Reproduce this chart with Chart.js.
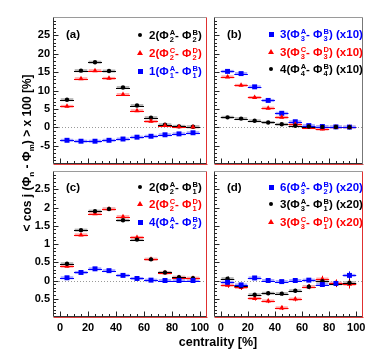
<!DOCTYPE html>
<html>
<head>
<meta charset="utf-8">
<script src="https://cdn.jsdelivr.net/npm/chart.js@4.4.1/dist/chart.umd.min.js"></script>
<style>
body { margin: 0; background: #fff; }
#wrap { position: relative; width: 374px; height: 355px; overflow: hidden;
  font-family: "Liberation Sans", Arial, sans-serif; font-weight: bold; }
#wrap canvas { position: absolute; left: 0; top: 0; }
.lab { position: absolute; white-space: nowrap; font-size: 11.5px; line-height: 14px; height: 14px; }
.ss { display: inline-block; vertical-align: -3px; font-size: 7.5px; line-height: 7px; margin-left: 1px; }
.ss span { display: block; }
.mk { position: absolute; }
#ytitle { position: absolute; left: 28px; top: 153px; white-space: nowrap; font-size: 12px;
  transform: translate(-50%, -50%) rotate(-90deg); }
#ytitle sub { font-size: 8px; }
#xtitle { position: absolute; left: 218px; top: 342px; white-space: nowrap; font-size: 12.5px;
  transform: translate(-50%, -50%); }
</style>
</head>
<body>
<div id="wrap">
  <canvas id="pa" width="374" height="355"></canvas>
  <canvas id="pb" width="374" height="355"></canvas>
  <canvas id="pc" width="374" height="355"></canvas>
  <canvas id="pd" width="374" height="355"></canvas>
  <div id="ytitle">&lt; cos j (Φ<sub>n</sub> - Φ<sub>m</sub>) &gt; x 100 [%]</div>
  <div id="xtitle">centrality [%]</div>
</div>
<script>
// centrality bins (centres), tick values
var centrality = [5, 15, 25, 35, 45, 55, 65, 75, 85, 95];
var xTicks = [0, 20, 40, 60, 80, 100];
var xTickLabels = ['0', '20', '40', '60', '80', '100'];
var yTicksTop = [-5, 0, 5, 10, 15, 20, 25];
var yTickLabelsTop = ['-5', '0', '5', '10', '15', '20', '25'];
var yTicksBot = [-0.5, 0, 0.5, 1, 1.5, 2, 2.5];
var yTickLabelsBot = ['0.5', '0', '0.5', '1', '1.5', '2', '2.5'];

// (a)
var a_2AB = [7.5, 15.4, 17.7, 15.3, 10.8, 5.9, 2.6, 0.7, 0.25, 0.15];
var a_2AB_stat = [0.3, 0.3, 0.3, 0.3, 0.3, 0.3, 0.3, 0.3, 0.3, 0.3];
var a_2AB_sys = [0.4, 0.4, 0.4, 0.4, 0.4, 0.4, 0.4, 0.4, 0.4, 0.4];
var a_2CD = [5.7, 13.2, 15.4, 13.3, 8.9, 4.5, 1.6, 0.45, 0.15, 0.1];
var a_2CD_stat = [0.3, 0.3, 0.3, 0.3, 0.3, 0.3, 0.3, 0.3, 0.3, 0.3];
var a_2CD_sys = [0.4, 0.4, 0.4, 0.4, 0.4, 0.4, 0.4, 0.4, 0.4, 0.4];
var a_1AB = [-3.55, -3.8, -3.8, -3.55, -3.2, -2.7, -2.45, -2.05, -1.8, -1.5];
var a_1AB_stat = [0.15, 0.15, 0.15, 0.15, 0.15, 0.15, 0.15, 0.15, 0.15, 0.15];
var a_1AB_sys = [0.4, 0.4, 0.4, 0.4, 0.4, 0.4, 0.4, 0.4, 0.4, 0.4];

// (b), values x10
var b_3AB = [15.2, 14.6, 11.0, 7.3, 3.8, 1.5, 0.45, 0.2, 0.1, 0.05];
var b_3AB_stat = [0.3, 0.3, 0.3, 0.3, 0.3, 0.3, 0.3, 0.3, 0.3, 0.3];
var b_3AB_sys = [0.4, 0.4, 0.4, 0.4, 0.4, 0.4, 0.4, 0.4, 0.4, 0.4];
var b_3CD = [13.7, 11.4, 8.1, 5.2, 2.7, 0.8, -0.1, -0.5, 0.0, 0.0];
var b_3CD_stat = [0.3, 0.3, 0.3, 0.3, 0.3, 0.3, 0.3, 0.3, 0.3, 0.3];
var b_3CD_sys = [0.4, 0.4, 0.4, 0.4, 0.4, 0.4, 0.4, 0.4, 0.4, 0.4];
var b_4AB = [2.7, 2.35, 1.75, 1.3, 0.8, 0.4, 0.2, 0.1, 0.05, 0.0];
var b_4AB_stat = [0.2, 0.2, 0.2, 0.2, 0.2, 0.2, 0.2, 0.2, 0.2, 0.2];
var b_4AB_sys = [0.3, 0.3, 0.3, 0.3, 0.3, 0.3, 0.3, 0.3, 0.3, 0.3];

// (c)
var c_2AB1 = [0.46, 1.38, 1.90, 1.96, 1.65, 1.12, 0.58, 0.22, 0.09, 0.06];
var c_2AB1_stat = [0.03, 0.03, 0.03, 0.03, 0.03, 0.03, 0.03, 0.03, 0.03, 0.03];
var c_2AB1_sys = [0.04, 0.04, 0.04, 0.04, 0.04, 0.04, 0.04, 0.04, 0.04, 0.04];
var c_2CD1 = [0.39, 1.25, 1.83, 1.96, 1.75, 1.18, 0.58, 0.21, 0.08, 0.06];
var c_2CD1_stat = [0.03, 0.03, 0.03, 0.03, 0.03, 0.03, 0.03, 0.03, 0.03, 0.03];
var c_2CD1_sys = [0.04, 0.04, 0.04, 0.04, 0.04, 0.04, 0.04, 0.04, 0.04, 0.04];
var c_4AB2 = [0.075, 0.22, 0.32, 0.27, 0.14, 0.055, 0.01, 0.0, 0.0, 0.0];
var c_4AB2_stat = [0.015, 0.015, 0.015, 0.015, 0.015, 0.015, 0.015, 0.015, 0.015, 0.015];
var c_4AB2_sys = [0.04, 0.04, 0.04, 0.04, 0.04, 0.04, 0.04, 0.04, 0.04, 0.04];

// (d), values x20
var d_6AB = [-0.05, -0.12, 0.07, 0.0, -0.03, 0.0, 0.01, -0.11, -0.08, 0.14];
var d_6AB_stat = [0.05, 0.05, 0.04, 0.04, 0.04, 0.04, 0.05, 0.06, 0.07, 0.11];
var d_6AB_sys = [0.04, 0.04, 0.04, 0.04, 0.04, 0.04, 0.04, 0.04, 0.04, 0.04];
var d_3AB1 = [0.05, -0.16, -0.39, -0.35, -0.36, -0.28, -0.17, -0.02, -0.09, -0.06];
var d_3AB1_stat = [0.06, 0.06, 0.05, 0.05, 0.05, 0.05, 0.06, 0.08, 0.09, 0.1];
var d_3AB1_sys = [0.04, 0.04, 0.04, 0.04, 0.04, 0.04, 0.04, 0.04, 0.04, 0.04];
var d_3CD1 = [-0.13, -0.19, -0.49, -0.56, -0.75, -0.51, -0.17, 0.04, -0.07, -0.1];
var d_3CD1_stat = [0.07, 0.07, 0.06, 0.06, 0.06, 0.06, 0.07, 0.09, 0.1, 0.12];
var d_3CD1_sys = [0.04, 0.04, 0.04, 0.04, 0.04, 0.04, 0.04, 0.04, 0.04, 0.04];

var BLACK = '#000000', RED = '#ff0000', BLUE = '#0000ff';
var LIGHT = { '#000000': '#b4b4b4', '#ff0000': '#ffaaaa', '#0000ff': '#a8a8ff' };
var MARK = { circle: 2.2, triangle: 3, rect: 3.5 };
var tickFont = { family: '"Liberation Sans", Arial, sans-serif', size: 11, weight: 'bold' };

function series(vals, stat, sys, color, style) {
  return {
    data: centrality.map(function (x, i) { return { x: x, y: vals[i] }; }),
    stat: stat, sys: sys,
    pointStyle: style, pointRadius: MARK[style],
    backgroundColor: color, borderColor: color, borderWidth: 0,
    showLine: false
  };
}

// systematic boxes, bin-width bars, stat bars, dotted zero line, frame with inner ticks
var errPlugin = {
  id: 'errs',
  beforeDatasetsDraw: function (chart) {
    var ctx = chart.ctx, xs = chart.scales.x, ys = chart.scales.y, a = chart.chartArea;
    ctx.save();
    ctx.strokeStyle = '#999'; ctx.lineWidth = 1; ctx.setLineDash([1, 2]);
    var y0 = Math.round(ys.getPixelForValue(0)) + 0.5;
    ctx.beginPath(); ctx.moveTo(a.left, y0); ctx.lineTo(a.right, y0); ctx.stroke();
    ctx.setLineDash([]);
    chart.data.datasets.forEach(function (ds) {
      ctx.fillStyle = LIGHT[ds.borderColor];
      ds.data.forEach(function (p, i) {
        var l = xs.getPixelForValue(p.x - 4.5), r = xs.getPixelForValue(p.x + 4.5);
        var t = ys.getPixelForValue(p.y + ds.sys[i]), b = ys.getPixelForValue(p.y - ds.sys[i]);
        var h = Math.max(b - t, 3);
        ctx.fillRect(l, (t + b) / 2 - h / 2, r - l, h);
      });
    });
    chart.data.datasets.forEach(function (ds) {
      ctx.strokeStyle = ds.borderColor; ctx.lineWidth = 1;
      ds.data.forEach(function (p, i) {
        var px = Math.round(xs.getPixelForValue(p.x)) + 0.5;
        var py = Math.round(ys.getPixelForValue(p.y)) + 0.5;
        ctx.beginPath();
        ctx.moveTo(xs.getPixelForValue(p.x - 5), py);
        ctx.lineTo(xs.getPixelForValue(p.x + 5), py);
        ctx.moveTo(px, ys.getPixelForValue(p.y + ds.stat[i]));
        ctx.lineTo(px, ys.getPixelForValue(p.y - ds.stat[i]));
        ctx.stroke();
      });
    });
    ctx.restore();
  },
  afterDraw: function (chart) {
    var ctx = chart.ctx, xs = chart.scales.x, ys = chart.scales.y, a = chart.chartArea;
    var o = chart.options.plugins.errs;
    var L = Math.round(a.left) + 0.5, R = Math.round(a.right) - 0.5;
    var T = Math.round(a.top) + 0.5, B = Math.round(a.bottom) - 0.5;
    ctx.save();
    ctx.lineWidth = 1;
    ctx.strokeStyle = '#9a9a9a';
    ctx.beginPath(); ctx.moveTo(L, T); ctx.lineTo(R, T); ctx.stroke();
    ctx.strokeStyle = '#333';
    ctx.beginPath(); ctx.moveTo(L, T); ctx.lineTo(L, B); ctx.lineTo(R, B); ctx.stroke();
    ctx.strokeStyle = '#e04040';
    ctx.beginPath(); ctx.moveTo(L, B + 1); ctx.lineTo(R + 1, B + 1); ctx.stroke();
    ctx.strokeStyle = o.rightColor;
    ctx.beginPath(); ctx.moveTo(R, T); ctx.lineTo(R, B + 1); ctx.stroke();
    // ticks drawn inward
    ctx.strokeStyle = '#222';
    ctx.beginPath();
    var v, px;
    for (v = -5; v <= 105.01; v += 5) {
      px = Math.round(xs.getPixelForValue(v)) + 0.5;
      if (px <= L || px >= R) continue;
      var len = (Math.abs(v % 20) < 0.01) ? 5 : 2.5;
      ctx.moveTo(px, B); ctx.lineTo(px, B - len);
    }
    for (v = ys.min; v <= ys.max + 1e-9; v += o.yMinor) {
      var py = Math.round(ys.getPixelForValue(v)) + 0.5;
      if (py <= T || py >= B) continue;
      var r = v / o.yMajor;
      var major = Math.abs(r - Math.round(r)) < 1e-6;
      ctx.moveTo(L, py); ctx.lineTo(L + (major ? 5 : 2.5), py);
    }
    ctx.stroke();
    ctx.restore();
  }
};

function makePanel(id, area, showX, showY, yMin, yMax, yTicks, yLabels, yMajor, yMinor, rightColor, sets) {
  return new Chart(document.getElementById(id), {
    type: 'scatter',
    data: { datasets: sets },
    options: {
      responsive: false, animation: false, events: [],
      layout: { padding: {
        left: showY ? area.l - 20 : area.l,
        right: 374 - area.r,
        top: area.t,
        bottom: showX ? 355 - area.b - 16 : 355 - area.b
      } },
      plugins: { legend: { display: false }, tooltip: { enabled: false },
        errs: { yMajor: yMajor, yMinor: yMinor, rightColor: rightColor } },
      scales: {
        x: {
          type: 'linear', min: -5, max: 105, display: showX,
          grid: { display: false, drawTicks: false }, border: { display: false },
          afterBuildTicks: function (s) { s.ticks = xTicks.map(function (v) { return { value: v }; }); },
          afterFit: function (s) { if (showX) s.height = 16; },
          ticks: { font: tickFont, color: '#000', padding: 4, autoSkip: false, maxRotation: 0,
            callback: function (v, i) { return xTickLabels[i]; } }
        },
        y: {
          type: 'linear', min: yMin, max: yMax, display: showY,
          grid: { display: false, drawTicks: false }, border: { display: false },
          afterBuildTicks: function (s) { s.ticks = yTicks.map(function (v) { return { value: v }; }); },
          afterFit: function (s) { if (showY) s.width = 20; },
          ticks: { font: tickFont, color: '#000', padding: 3, autoSkip: false,
            callback: function (v, i) { return yLabels[i]; } }
        }
      }
    },
    plugins: [errPlugin]
  });
}

makePanel('pa', { l: 53, t: 17, r: 207, b: 164 }, false, true, -10, 30, yTicksTop, yTickLabelsTop, 5, 1, '#e03030', [
  series(a_1AB, a_1AB_stat, a_1AB_sys, BLUE, 'rect'),
  series(a_2CD, a_2CD_stat, a_2CD_sys, RED, 'triangle'),
  series(a_2AB, a_2AB_stat, a_2AB_sys, BLACK, 'circle')
]);
makePanel('pb', { l: 214, t: 17, r: 363, b: 164 }, false, false, -10, 30, yTicksTop, yTickLabelsTop, 5, 1, '#777', [
  series(b_4AB, b_4AB_stat, b_4AB_sys, BLACK, 'circle'),
  series(b_3CD, b_3CD_stat, b_3CD_sys, RED, 'triangle'),
  series(b_3AB, b_3AB_stat, b_3AB_sys, BLUE, 'rect')
]);
makePanel('pc', { l: 53, t: 171, r: 207, b: 317 }, true, true, -1, 3, yTicksBot, yTickLabelsBot, 0.5, 0.1, '#e03030', [
  series(c_4AB2, c_4AB2_stat, c_4AB2_sys, BLUE, 'rect'),
  series(c_2AB1, c_2AB1_stat, c_2AB1_sys, BLACK, 'circle'),
  series(c_2CD1, c_2CD1_stat, c_2CD1_sys, RED, 'triangle')
]);
makePanel('pd', { l: 214, t: 171, r: 363, b: 317 }, true, false, -1, 3, yTicksBot, yTickLabelsBot, 0.5, 0.1, '#e03030', [
  series(d_6AB, d_6AB_stat, d_6AB_sys, BLUE, 'rect'),
  series(d_3AB1, d_3AB1_stat, d_3AB1_sys, BLACK, 'circle'),
  series(d_3CD1, d_3CD1_stat, d_3CD1_sys, RED, 'triangle')
]);

// legends and panel tags (html, for the stacked sub/superscripts)
var wrap = document.getElementById('wrap');
function phi(sup, sub) {
  return 'Φ<span class="ss"><span>' + sup + '</span><span>' + sub + '</span></span>';
}
function text(x, y, html, color) {
  var d = document.createElement('div');
  d.className = 'lab';
  d.style.left = x + 'px'; d.style.top = (y - 7) + 'px'; d.style.color = color;
  d.innerHTML = html;
  wrap.appendChild(d);
}
function marker(x, y, style, color) {
  var m = document.createElement('div');
  m.className = 'mk';
  if (style == 'triangle') {
    m.style.left = (x - 3) + 'px'; m.style.top = (y - 3) + 'px';
    m.style.borderLeft = '3px solid transparent'; m.style.borderRight = '3px solid transparent';
    m.style.borderBottom = '5px solid ' + color;
  } else {
    var s = style == 'circle' ? 4 : 5;
    m.style.left = (x - s / 2) + 'px'; m.style.top = (y - s / 2) + 'px';
    m.style.width = s + 'px'; m.style.height = s + 'px'; m.style.background = color;
    if (style == 'circle') m.style.borderRadius = '50%';
  }
  wrap.appendChild(m);
}
function entry(x, y, style, color, html) {
  marker(x, y, style, color);
  text(x + 9, y, html, color);
}
function pair(n, up1, lo1, up2, lo2) {
  return n + '(' + phi(up1, lo1) + '- ' + phi(up2, lo2) + ')';
}

text(66, 34, '(a)', BLACK);
entry(140, 35, 'circle', BLACK, pair(2, 'A', 2, 'B', 2));
entry(140, 53, 'triangle', RED, pair(2, 'C', 2, 'D', 2));
entry(140, 71, 'rect', BLUE, pair(1, 'A', 1, 'B', 1));

text(227, 34, '(b)', BLACK);
entry(271, 34, 'rect', BLUE, pair(3, 'A', 3, 'B', 3) + ' (x10)');
entry(271, 52, 'triangle', RED, pair(3, 'C', 3, 'D', 3) + ' (x10)');
entry(271, 69, 'circle', BLACK, pair(4, 'A', 4, 'B', 4) + ' (x10)');

text(66, 187, '(c)', BLACK);
entry(140, 187, 'circle', BLACK, pair(2, 'A', 2, 'B', 1));
entry(140, 204, 'triangle', RED, pair(2, 'C', 2, 'D', 1));
entry(140, 222, 'rect', BLUE, pair(4, 'A', 4, 'B', 2));

text(227, 187, '(d)', BLACK);
entry(271, 187, 'rect', BLUE, pair(6, 'A', 3, 'B', 2) + ' (x20)');
entry(271, 204, 'circle', BLACK, pair(3, 'A', 3, 'B', 1) + ' (x20)');
entry(271, 222, 'triangle', RED, pair(3, 'C', 3, 'D', 1) + ' (x20)');
</script>
</body>
</html>
